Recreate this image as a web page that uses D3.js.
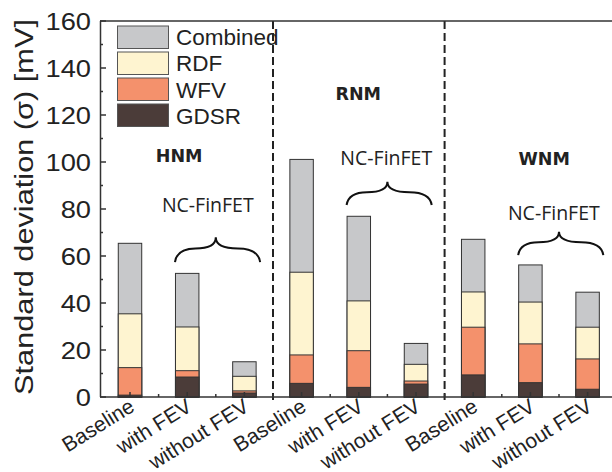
<!DOCTYPE html>
<html><head><meta charset="utf-8">
<script src="https://cdn.jsdelivr.net/npm/d3@7"></script>
<style>body{margin:0;background:#fff}svg{display:block}</style>
</head><body>
<svg id="c" width="612" height="472"></svg>
<script>
const categories = ["Baseline","with FEV","without FEV","Baseline","with FEV","without FEV","Baseline","with FEV","without FEV"];
const combined = [65.4, 52.6, 15.0, 101.1, 76.9, 22.8, 67.1, 56.2, 44.6];
const rdf      = [35.4, 29.8, 8.8, 53.1, 40.9, 13.9, 44.7, 40.4, 29.7];
const wfv      = [12.5, 11.2, 2.6, 17.9, 19.7, 6.8, 29.7, 22.6, 16.2];
const gdsr     = [0.8, 8.5, 1.7, 5.8, 4.1, 5.5, 9.4, 6.1, 3.3];
const seriesNames = ["Combined","RDF","WFV","GDSR"];
const seriesColors = ["#c7c8ca","#fef4d0","#f4916c","#4b3c39"];
const yTicks = [0,20,40,60,80,100,120,140,160];
const groups = ["HNM","RNM","WNM"];
const groupLabelPos = [[0.86,100.1],[3.99,126.4],[7.24,98.7]];
const ncLabelPos = [[1.36,78.9],[4.48,98.7],[7.41,75.3]];
const braceY = [[57.4,68.0],[81.7,91.6],[60.4,70.3]]; // [ends, peak]

const svg = d3.select("#c");
const idx = d3.range(categories.length);
const x = d3.scaleBand().domain(idx).range([101.4,616.2]).paddingInner(0.59).paddingOuter(0.295);
const y = d3.scaleLinear().domain([0,160]).range([397,21]);
const step = x.step(), bw = x.bandwidth();
const cx = i => x(0) + bw/2 + i*step;

// bars (overlapping, each from 0)
const series = [combined, rdf, wfv, gdsr];
series.forEach((vals, s) => {
  svg.append("g").selectAll("rect").data(vals).join("rect")
    .attr("x", (d,i) => x(i)).attr("width", bw)
    .attr("y", d => y(d)).attr("height", d => y(0)-y(d))
    .attr("fill", seriesColors[s]).attr("stroke", "#333").attr("stroke-width", 1);
});

// dashed separators
[2,5].forEach(i => {
  const xx = (cx(i)+cx(i+1))/2;
  svg.append("line").attr("x1",xx).attr("x2",xx).attr("y1",y(160)).attr("y2",y(0)+3)
    .attr("stroke","#222").attr("stroke-width",2).attr("stroke-dasharray","8,4");
});

// axes
const axG = svg.append("g").attr("stroke","#333").attr("stroke-width",1.5);
axG.append("line").attr("x1",100.5).attr("x2",100.5).attr("y1",y(160)).attr("y2",y(0));
axG.append("line").attr("x1",100).attr("x2",612).attr("y1",y(0)).attr("y2",y(0));
axG.append("line").attr("x1",100).attr("x2",612).attr("y1",y(160)).attr("y2",y(160));
d3.range(0,161,10).forEach(v => {
  axG.append("line").attr("x1",100).attr("x2", v%20===0 ? 106 : 103).attr("y1",y(v)).attr("y2",y(v));
});
idx.forEach(i => {
  axG.append("line").attr("x1",cx(i)).attr("x2",cx(i)).attr("y1",y(0)).attr("y2",y(0)-5);
  if (i < idx.length-1) {
    const b = cx(i)+step/2;
    axG.append("line").attr("x1",b).attr("x2",b).attr("y1",y(0)).attr("y2",y(0)-3);
  }
});

// y tick labels (horizontally stretched like the reference)
svg.append("g").selectAll("text").data(yTicks).join("text")
  .attr("transform",d=>`translate(91,${y(d)+8.5}) scale(1.16,1)`).attr("text-anchor","end")
  .attr("font-family","Liberation Sans, Arial").attr("font-size",23.5).attr("fill","#222")
  .text(d=>d);

// y title
svg.append("text").attr("transform","translate(33,207) rotate(-90)").attr("text-anchor","middle")
  .attr("font-family","Liberation Sans, Arial").attr("font-size",26).attr("fill","#222")
  .attr("textLength",376).attr("lengthAdjust","spacingAndGlyphs")
  .text("Standard deviation (σ) [mV]");

// x labels
svg.append("g").selectAll("text").data(categories).join("text")
  .attr("transform",(d,i)=>`translate(${cx(i)+6},${y(0)+13}) rotate(-32)`)
  .attr("text-anchor","end")
  .attr("font-family","Liberation Sans, Arial").attr("font-size",21).attr("fill","#222")
  .text(d=>d);

// legend
const lg = svg.append("g");
seriesNames.forEach((n,k) => {
  lg.append("rect").attr("x",117.5).attr("y",26+k*26).attr("width",51).attr("height",22.5)
    .attr("fill",seriesColors[k]).attr("stroke","#555").attr("stroke-width",1);
  lg.append("text").attr("x",176).attr("y",45+k*26.3)
    .attr("font-family","Liberation Sans, Arial").attr("font-size",22.5).attr("fill","#222").text(n);
});

// group labels
groups.forEach((g,k) => {
  svg.append("text").attr("x",cx(groupLabelPos[k][0])).attr("y",y(groupLabelPos[k][1]))
    .attr("text-anchor","middle").attr("font-family","DejaVu Sans").attr("font-weight","bold")
    .attr("font-size",17.5).attr("fill","#222").text(g);
  svg.append("text").attr("x",cx(ncLabelPos[k][0])).attr("y",y(ncLabelPos[k][1]))
    .attr("text-anchor","middle").attr("font-family","Open Sans").attr("font-size",19.5)
    .attr("fill","#222").text("NC-FinFET");
  // brace over bars (with FEV, without FEV)
  const i1 = k*3+1, i2 = k*3+2;
  const x0 = x(i1) - 0.5, x1 = x(i2) + bw + 4;
  const xc = (cx(i1)+cx(i2))/2;
  const yE = y(braceY[k][0]), yP = y(braceY[k][1]);
  const yM = yE - 0.55*(yE-yP);
  const p = d3.path();
  p.moveTo(x0,yE);
  p.quadraticCurveTo(x0+2,yM,(x0+xc)/2,yM);
  p.quadraticCurveTo(xc,yM,xc,yP);
  p.quadraticCurveTo(xc,yM,(xc+x1)/2,yM);
  p.quadraticCurveTo(x1-2,yM,x1,yE);
  svg.append("path").attr("d",p.toString()).attr("fill","none").attr("stroke","#111").attr("stroke-width",2);
});
</script>
</body></html>
